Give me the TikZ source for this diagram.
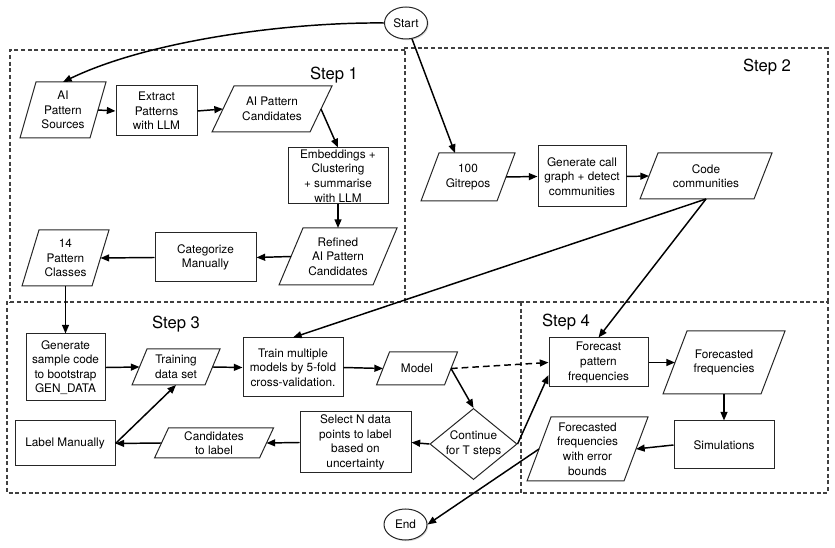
\documentclass[tikz,border=0pt]{standalone}
\usepackage{fontspec}
\setmainfont{TeX Gyre Heros}
\usetikzlibrary{shapes.geometric,arrows.meta,calc,shadows}
\newcommand{\upx}{0.75pt}
\tikzset{
  every node/.style={font=\fontsize{8.85pt}{10.9pt}\selectfont, align=center, inner sep=0pt},
  nodeline/.style={draw=black!85, line width=0.75pt},
  box/.style={rectangle, nodeline},
  para/.style={rectangle, outer sep=0pt},
  term/.style={ellipse, nodeline, fill=white, drop shadow={opacity=0.3, shadow xshift=0.9pt, shadow yshift=-0.9pt}},
  dec/.style={diamond, nodeline, shape aspect=1.225},
  conn/.style={line width=1.1pt, -{Triangle[length=6.5pt,width=5.2pt]}},
  stepbox/.style={draw=black!75, line width=0.8pt, dash pattern=on 3pt off 2pt},
  steplabel/.style={font=\fontsize{12.5pt}{15pt}\selectfont},
}
\newcommand{\drawpara}[2]{%
  \draw[nodeline] ([xshift=#2*0.375pt]#1.north west) -- ([xshift=#2*0.375pt]#1.north east)
    -- ([xshift=-#2*0.375pt]#1.south east) -- ([xshift=-#2*0.375pt]#1.south west) -- cycle;}
\begin{document}
\begin{tikzpicture}[x=0.75pt,y=-0.75pt]
\useasboundingbox (0,0) rectangle (835,548);
% step frames (shared edges drawn once)
\draw[stepbox] (405,50) -- (10,50) -- (10,302);
\draw[stepbox] (405,302) -- (405,48) -- (828,48) -- (828,302);
\draw[stepbox] (521,302) -- (7,302) -- (7,493) -- (521,493);
\draw[stepbox] (521,302) rectangle (828,493);
\node[steplabel] (s1) at (334,75) {Step 1};
\node[steplabel] (s2) at (767,67) {Step 2};
\node[steplabel] (s3) at (176,324) {Step 3};
\node[steplabel] (s4) at (566,322) {Step 4};

% terminals
\node[term, minimum width=43*\upx, minimum height=32*\upx] (start) at (406,23) {Start};
\node[term, minimum width=43*\upx, minimum height=31*\upx] (end) at (405.5,524.5) {End};

% step 1
\node[para, minimum width=70*\upx, minimum height=56*\upx] (src) at (63,110) {AI\\Pattern\\Sources};
\drawpara{src}{16}
\node[box, minimum width=81*\upx, minimum height=50*\upx] (ext) at (156.5,111) {Extract\\Patterns\\with LLM};
\node[para, minimum width=98*\upx, minimum height=46*\upx] (cand) at (272,109) {AI Pattern\\Candidates};
\drawpara{cand}{22}
\node[box, minimum width=100*\upx, minimum height=56*\upx] (emb) at (338,176) {Embeddings +\\Clustering\\+ summarise\\with LLM};
\node[para, minimum width=94*\upx, minimum height=57*\upx] (ref) at (338,256.5) {Refined\\AI Pattern\\Candidates};
\drawpara{ref}{24}
\node[box, minimum width=101*\upx, minimum height=49*\upx] (cat) at (205.5,257.5) {Categorize\\Manually};
\node[para, minimum width=70*\upx, minimum height=56*\upx] (cls) at (65.5,258) {14\\Pattern\\Classes};
\drawpara{cls}{17}

% step 2
\node[para, minimum width=76*\upx, minimum height=48*\upx] (git) at (468,177) {100\\Gitrepos};
\drawpara{git}{18}
\node[box, minimum width=88*\upx, minimum height=61*\upx] (gcg) at (582,176.5) {Generate call\\graph + detect\\communities};
\node[para, minimum width=114*\upx, minimum height=46*\upx] (code) at (706,176) {Code\\communities};
\drawpara{code}{18}

% step 3
\node[box, minimum width=79*\upx, minimum height=67*\upx] (gen) at (65.5,367.5) {Generate\\sample code\\to bootstrap\\GEN\_DATA};
\node[para, minimum width=73*\upx, minimum height=36*\upx] (tds) at (176,367) {Training\\data set};
\drawpara{tds}{15}
\node[box, minimum width=100*\upx, minimum height=59*\upx] (train) at (293,367.5) {Train multiple\\models by 5-fold\\cross-validation.};
\node[para, minimum width=68*\upx, minimum height=33*\upx] (model) at (417,368.5) {Model};
\drawpara{model}{13}
\node[dec] (cont) at (473.5,444) {Continue\\for T steps};
\node[box, minimum width=111*\upx, minimum height=61*\upx] (sel) at (355.5,442.5) {Select N data\\points to label\\based on\\uncertainty};
\node[para, minimum width=105*\upx, minimum height=30*\upx] (ctl) at (214,443) {Candidates\\to label};
\drawpara{ctl}{14}
\node[box, minimum width=100*\upx, minimum height=45*\upx] (lab) at (65,443.5) {Label Manually};

% step 4
\node[box, minimum width=99*\upx, minimum height=49*\upx] (fore) at (598.5,362.5) {Forecast\\pattern\\frequencies};
\node[para, minimum width=98*\upx, minimum height=63*\upx] (fcd) at (724,362.5) {Forecasted\\frequencies};
\drawpara{fcd}{24}
\node[box, minimum width=100*\upx, minimum height=48*\upx] (sim) at (724,445) {Simulations};
\node[para, minimum width=97*\upx, minimum height=64*\upx] (err) at (587.5,449) {Forecasted\\frequencies\\with error\\bounds};
\drawpara{err}{24}

% connectors
\draw[conn] (start.west) .. controls (290,22) and (150,40) .. (src.north);
\draw[conn] (start) -- ([xshift=-13*\upx]git.north);
\draw[conn] (src.east) -- (ext.west);
\draw[conn] (ext.east) -- (cand.west);
\draw[conn] (cand.east) -- (emb.north);
\draw[conn] (emb.south) -- (ref.north);
\draw[conn] (ref.west) -- (cat.east);
\draw[conn] (cat.west) -- (cls.east);
\draw[conn] (cls.south) -- (gen.north);
\draw[conn] (git.east) -- (gcg.west);
\draw[conn] (gcg.east) -- (code.west);
\draw[conn] (code.south) -- (train.north);
\draw[conn] (code.south) -- (fore.north);
\draw[conn] (gen.east) -- (tds.west);
\draw[conn] (tds.east) -- (train.west);
\draw[conn] (train.east) -- (model.west);
\draw[conn] (model.east) -- (cont.north);
\draw[conn, dash pattern=on 5pt off 3pt] (model.east) -- (fore.west);
\draw[conn] (cont.west) -- (sel.east);
\draw[conn] (sel.west) -- (ctl.east);
\draw[conn] (ctl.west) -- (lab.east);
\draw[conn] (lab.east) -- (tds.south);
\draw[conn] (cont.east) -- ([yshift=-9.4pt]fore.west);
\draw[conn] (fore.east) -- (fcd.west);
\draw[conn] (fcd.south) -- (sim.north);
\draw[conn] (sim.west) -- (err.east);
\draw[conn] (err.west) -- (end.east);
\end{tikzpicture}
\end{document}
